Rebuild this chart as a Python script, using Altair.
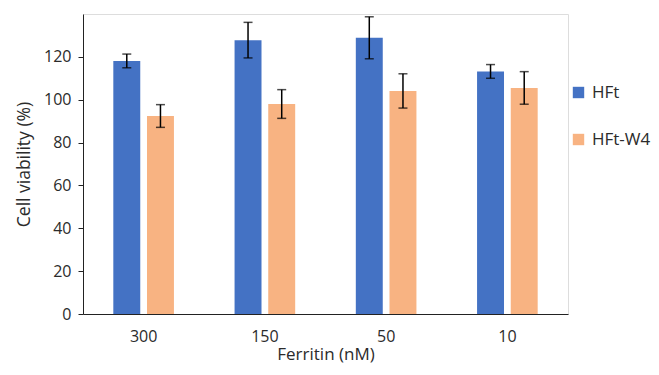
import altair as alt
import pandas as pd

concentrations = ["300", "150", "50", "10"]
series = ["HFt", "HFt-W4"]
hft_mean = [118.1, 127.8, 128.9, 113.2]
hft_err = [3.2, 8.3, 9.8, 3.2]
w4_mean = [92.4, 98.0, 104.1, 105.5]
w4_err = [5.3, 6.7, 8.0, 7.6]

rows = []
for i, c in enumerate(concentrations):
    rows.append({"conc": c, "series": "HFt", "mean": hft_mean[i], "err": hft_err[i]})
    rows.append({"conc": c, "series": "HFt-W4", "mean": w4_mean[i], "err": w4_err[i]})
df = pd.DataFrame(rows)
df["lo"] = df["mean"] - df["err"]
df["hi"] = df["mean"] + df["err"]

FONT = "Open Sans"
TXT = "#2b2b2b"
colors = ["#4472C4", "#F8B382"]

x_enc = alt.X("conc:N", sort=concentrations,
              scale=alt.Scale(paddingInner=0.5, paddingOuter=0.25),
              axis=alt.Axis(title="Ferritin (nM)", labelAngle=0, ticks=False,
                            labelFontSize=16, titleFontSize=17, labelPadding=14,
                            titlePadding=2, domainColor="#222222", labelColor=TXT,
                            titleColor=TXT, titleFontWeight="normal", labelFont=FONT,
                            titleFont=FONT))
xoff = alt.XOffset("series:N", sort=series, scale=alt.Scale(paddingInner=0.2, paddingOuter=0))

base = alt.Chart(df)

bars = base.mark_bar().encode(
    x=x_enc,
    xOffset=xoff,
    y=alt.Y("mean:Q", scale=alt.Scale(domain=[0, 140], nice=False),
            axis=alt.Axis(title="Cell viability (%)", values=[0, 20, 40, 60, 80, 100, 120],
                          grid=False, tickSize=5, labelFontSize=16, titleFontSize=17.5,
                          labelPadding=7, titlePadding=10, domainColor="#222222",
                          tickColor="#222222", labelColor=TXT, titleColor=TXT,
                          titleFontWeight="normal", labelFont=FONT, titleFont=FONT)),
    color=alt.Color("series:N", sort=series,
                    scale=alt.Scale(domain=series, range=colors),
                    legend=alt.Legend(title=None, orient="none", legendX=487, legendY=70,
                                      symbolType="square", symbolSize=130,
                                      symbolStrokeWidth=0, labelFontSize=17,
                                      labelFont=FONT, labelColor=TXT,
                                      rowPadding=29, labelOffset=5)),
)

rules = base.mark_rule(color="black", strokeWidth=1.5).encode(
    x=alt.X("conc:N", sort=concentrations),
    xOffset=xoff,
    y="lo:Q",
    y2="hi:Q",
)
cap_hi = base.mark_tick(color="black", thickness=1.5, size=9, orient="horizontal").encode(
    x=alt.X("conc:N", sort=concentrations),
    xOffset=xoff,
    y="hi:Q",
)
cap_lo = base.mark_tick(color="black", thickness=1.5, size=9, orient="horizontal").encode(
    x=alt.X("conc:N", sort=concentrations),
    xOffset=xoff,
    y="lo:Q",
)

chart = alt.layer(bars, rules, cap_hi, cap_lo).properties(
    width=485, height=300,
    autosize=alt.AutoSizeParams(type="none"),
    padding={"left": 75, "top": 6, "right": 83, "bottom": 53},
).configure_view(stroke=None).configure(background="white")

chart.save("out.html", embed_options={"renderer": "svg", "actions": False})
